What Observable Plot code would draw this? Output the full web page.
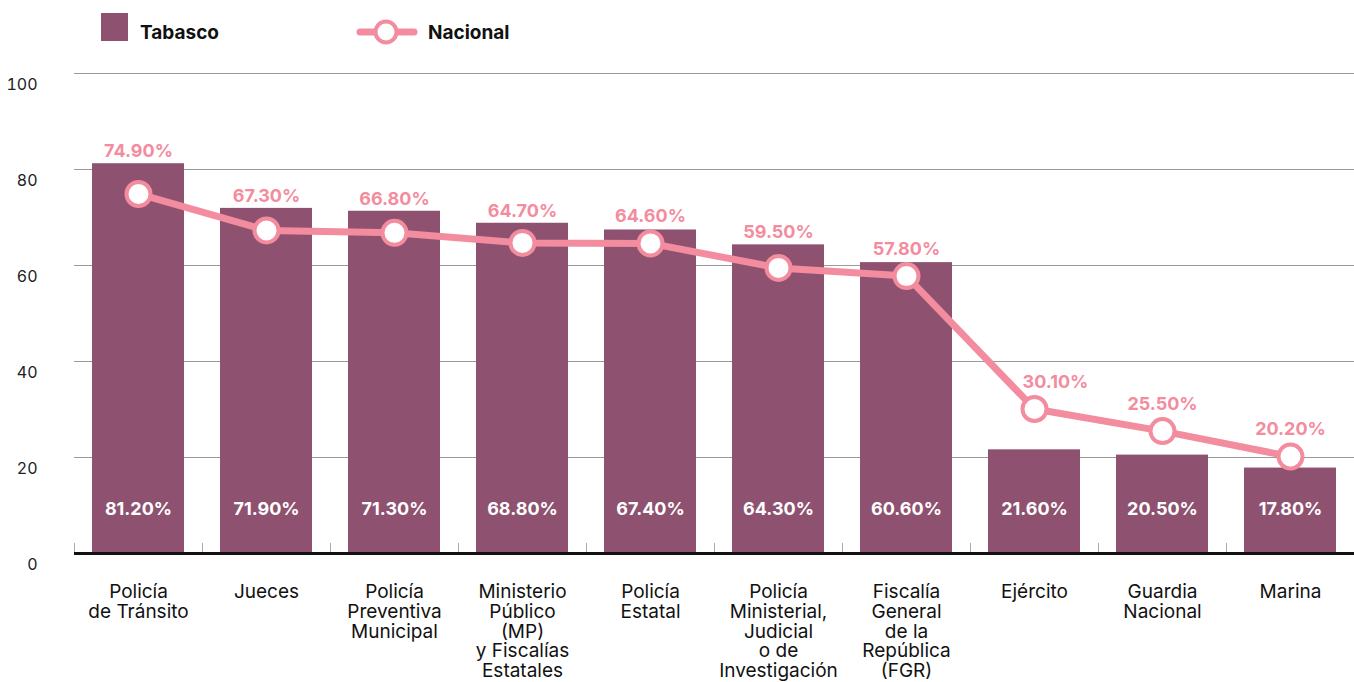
<!DOCTYPE html>
<html>
<head>
<meta charset="utf-8">
<script src="https://cdn.jsdelivr.net/npm/d3@7"></script>
<script src="https://cdn.jsdelivr.net/npm/@observablehq/plot@0.6"></script>
<style>
  html, body { margin: 0; padding: 0; background: #fff; }
  body { font-family: Inter, "Noto Sans", sans-serif; width: 1354px; height: 682px; overflow: hidden; }
  #legend { position: relative; height: 50px; }
  #legend .sw { position: absolute; left: 101px; top: 13px; width: 27px; height: 28px; background: #8E5270; }
  #legend .lab { position: absolute; top: 21px; font-size: 19px; font-weight: 700; color: #111; line-height: 24px; }
  #legend svg { position: absolute; left: 356px; top: 18px; }
  #chart svg { display: block; overflow: visible; }
</style>
</head>
<body>
<div id="legend">
  <div class="sw"></div>
  <div class="lab" style="left:140px">Tabasco</div>
  <svg width="62" height="30"><line x1="4" y1="14" x2="58" y2="14" stroke="#F38C9E" stroke-width="7" stroke-linecap="round"/><circle cx="30" cy="14" r="10.5" fill="#fff" stroke="#F38C9E" stroke-width="4"/></svg>
  <div class="lab" style="left:428px">Nacional</div>
</div>
<div id="chart"></div>
<script>
const categories = ["Policía\nde Tránsito", "Jueces", "Policía\nPreventiva\nMunicipal", "Ministerio\nPúblico\n(MP)\ny Fiscalías\nEstatales", "Policía\nEstatal", "Policía\nMinisterial,\nJudicial\no de\nInvestigación", "Fiscalía\nGeneral\nde la\nRepública\n(FGR)", "Ejército", "Guardia\nNacional", "Marina"];
const tabasco = [81.2, 71.9, 71.3, 68.8, 67.4, 64.3, 60.6, 21.6, 20.5, 17.8];
const nacional = [74.9, 67.3, 66.8, 64.7, 64.6, 59.5, 57.8, 30.1, 25.5, 20.2];
const yTicks = [0, 20, 40, 60, 80, 100];
const gridTicks = [20, 40, 60, 80, 100];

const data = categories.map((c, i) => ({cat: c, t: tabasco[i], n: nacional[i], i}));
const fmt = v => d3.format(".2f")(v) + "%";
const pink = "#F38C9E";
const plum = "#8E5270";
const natLabelY = d => Math.max(d.t + 2.6, d.n + 5.6);
const shifted = d => d.cat === "Ejército";

const chart = Plot.plot({
  width: 1354,
  height: 632,
  marginTop: 23,
  marginBottom: 129,
  marginLeft: 74,
  marginRight: 0,
  style: {fontFamily: "Inter, 'Noto Sans', sans-serif", background: "#fff", overflow: "visible"},
  x: {domain: categories, paddingInner: 0.28, paddingOuter: 0.14, axis: null},
  y: {domain: [0, 100], axis: null},
  marks: [
    Plot.gridY(gridTicks, {stroke: "#9a9a9a", strokeOpacity: 1, strokeWidth: 1}),
    Plot.axisY(yTicks, {tickSize: 0, tickPadding: 37, dy: 11, fontSize: 16, fill: "#222", label: null}),
    Plot.barY(data, {x: "cat", y: "t", fill: plum}),
    Plot.ruleX(data, {x: "cat", dx: -64, y1: 0, y2: 2.1, stroke: "#aaa", strokeWidth: 1}),
    Plot.ruleX(data.slice(-1), {x: "cat", dx: 64, y1: 0, y2: 2.1, stroke: "#aaa", strokeWidth: 1}),
    Plot.ruleY([0], {stroke: "#111", strokeWidth: 3}),
    Plot.text(data, {x: "cat", text: d => fmt(d.t), frameAnchor: "bottom", lineAnchor: "middle", dy: -44, fill: "#fff", fontWeight: 700, fontSize: 18}),
    Plot.line(data, {x: "cat", y: "n", stroke: pink, strokeWidth: 7}),
    Plot.dot(data, {x: "cat", y: "n", r: 12, fill: "#fff", stroke: pink, strokeWidth: 4}),
    Plot.text(data.filter(d => !shifted(d)), {x: "cat", y: natLabelY, text: d => fmt(d.n), fill: pink, fontWeight: 700, fontSize: 18}),
    Plot.text(data.filter(shifted), {x: "cat", y: natLabelY, dx: 21, text: d => fmt(d.n), fill: pink, fontWeight: 700, fontSize: 18}),
    Plot.text(data, {x: "cat", text: "cat", frameAnchor: "bottom", lineAnchor: "top", dy: 31, fontSize: 19, lineHeight: 1.03, fill: "#111"})
  ]
});
document.getElementById("chart").appendChild(chart);
</script>
</body>
</html>
